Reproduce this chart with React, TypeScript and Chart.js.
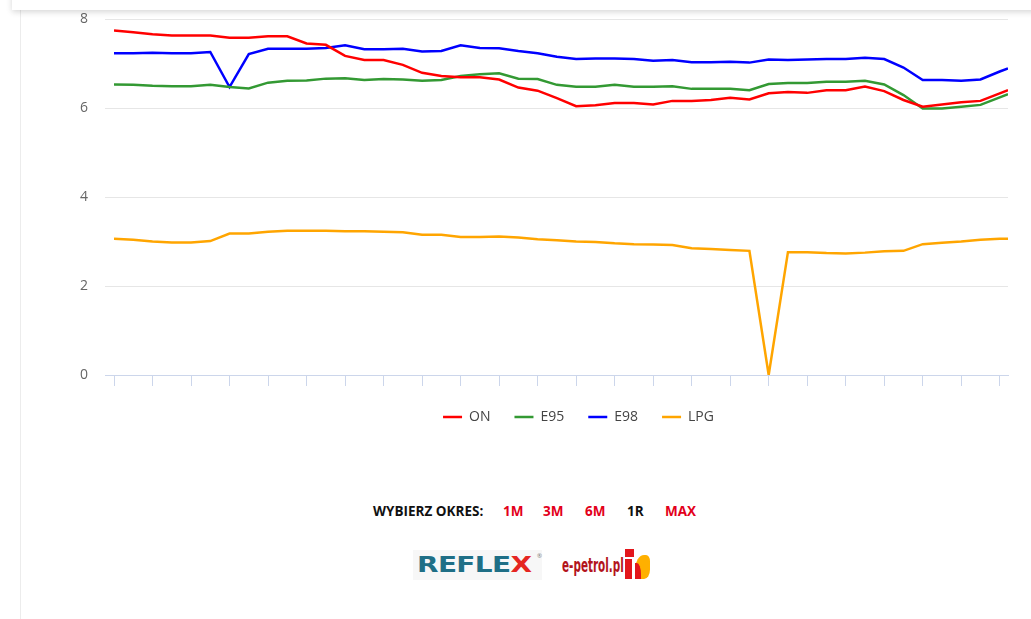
import React, { useEffect, useRef } from "react";
import { Chart, registerables } from "chart.js";

Chart.register(...registerables);

// Day offsets of the observations (weekly + latest reading)
const days = [
  0, 7, 14, 21, 28, 35, 42, 49, 56, 63, 70, 77, 84, 91, 98, 105, 112, 119, 126, 133,
  140, 147, 154, 161, 168, 175, 182, 189, 196, 203, 210, 217, 224, 231, 238, 245, 252,
  259, 266, 273, 280, 287, 294, 301, 308, 315, 322, 325,
];
// Positions of the x-axis tick marks (every two weeks)
const tickDays = [
  0, 14, 28, 42, 56, 70, 84, 98, 112, 126, 140, 154, 168, 182, 196, 210, 224, 238, 252,
  266, 280, 294, 308, 322,
];

const onValues = [
  7.74, 7.7, 7.66, 7.63, 7.63, 7.63, 7.58, 7.58, 7.61, 7.61, 7.45, 7.42, 7.17, 7.08, 7.08,
  6.97, 6.79, 6.72, 6.69, 6.69, 6.64, 6.46, 6.39, 6.22, 6.04, 6.06, 6.11, 6.11, 6.08, 6.16,
  6.16, 6.18, 6.23, 6.19, 6.33, 6.36, 6.34, 6.4, 6.4, 6.48, 6.38, 6.18, 6.03, 6.08, 6.13,
  6.16, 6.33, 6.4,
];
const e95Values = [
  6.53, 6.52, 6.5, 6.49, 6.49, 6.52, 6.47, 6.44, 6.57, 6.61, 6.62, 6.66, 6.67, 6.63, 6.65,
  6.64, 6.61, 6.63, 6.72, 6.76, 6.78, 6.66, 6.65, 6.52, 6.48, 6.48, 6.52, 6.48, 6.48, 6.49,
  6.43, 6.43, 6.43, 6.4, 6.54, 6.56, 6.56, 6.59, 6.59, 6.61, 6.53, 6.29, 5.99, 5.99, 6.03,
  6.07, 6.24, 6.31,
];
const e98Values = [
  7.23, 7.23, 7.24, 7.23, 7.23, 7.26, 6.47, 7.21, 7.33, 7.33, 7.33, 7.35, 7.41, 7.32, 7.32,
  7.33, 7.27, 7.28, 7.41, 7.35, 7.34, 7.28, 7.23, 7.15, 7.1, 7.11, 7.11, 7.1, 7.06, 7.08,
  7.03, 7.03, 7.04, 7.02, 7.09, 7.08, 7.09, 7.1, 7.1, 7.13, 7.1, 6.91, 6.63, 6.63, 6.61,
  6.64, 6.82, 6.89,
];
const lpgValues = [
  3.06, 3.04, 3.0, 2.98, 2.98, 3.01, 3.18, 3.18, 3.22, 3.24, 3.24, 3.24, 3.23, 3.23, 3.22,
  3.21, 3.15, 3.15, 3.1, 3.1, 3.11, 3.09, 3.05, 3.03, 3.0, 2.99, 2.96, 2.94, 2.93, 2.92,
  2.85, 2.83, 2.81, 2.79, 0, 2.76, 2.76, 2.74, 2.73, 2.75, 2.78, 2.79, 2.94, 2.97, 3.0,
  3.04, 3.06, 3.06,
];

const seriesNames = ["ON", "E95", "E98", "LPG"];
const seriesValues = [onValues, e95Values, e98Values, lpgValues];
const seriesColors = ["#ff0000", "#339933", "#0000ff", "#ffa500"];

const periodLabel = "WYBIERZ OKRES:";
const periods = ["1M", "3M", "6M", "1R", "MAX"];
const activePeriod = "1R";
const periodLefts = [503, 543, 585, 627, 665];

export default function App() {
  const canvasRef = useRef<HTMLCanvasElement | null>(null);

  useEffect(() => {
    if (!canvasRef.current) return;
    Chart.defaults.font.family = "'Open Sans', sans-serif";
    const chart = new Chart(canvasRef.current, {
      type: "line",
      data: {
        datasets: seriesNames.map((name, k) => ({
          label: name,
          data: days.map((d, i) => ({ x: d, y: seriesValues[k][i] })),
          borderColor: seriesColors[k],
          backgroundColor: seriesColors[k],
          borderWidth: 2.5,
          pointRadius: 0,
          pointHoverRadius: 0,
          tension: 0,
          fill: false,
        })),
      },
      options: {
        responsive: false,
        animation: false,
        layout: { padding: { top: 19, bottom: 6, left: 0, right: 0 } },
        scales: {
          x: {
            type: "linear",
            min: 0,
            max: 325,
            afterBuildTicks: (scale: any) => {
              scale.ticks = tickDays.map((v) => ({ value: v }));
            },
            ticks: { display: false },
            grid: {
              drawOnChartArea: false,
              drawTicks: true,
              tickLength: 11,
              color: "#ccd6eb",
            },
            border: { display: true, color: "#ccd6eb" },
          },
          y: {
            type: "linear",
            min: 0,
            max: 8,
            ticks: { stepSize: 2, color: "#666666", font: { size: 14 }, padding: 17 },
            grid: {
              color: (c: any) => (c.tick && c.tick.value === 0 ? "#ccd6eb" : "#e6e6e6"),
              tickLength: 9,
            },
            border: { display: false },
            afterFit: (scale: any) => {
              scale.width = 94;
              scale.paddingTop = 0;
              scale.paddingBottom = 0;
            },
          },
          yR: {
            type: "linear",
            position: "right",
            display: true,
            grid: { display: false },
            ticks: { display: false },
            border: { display: false },
            afterFit: (scale: any) => {
              scale.width = 129;
              scale.paddingTop = 0;
              scale.paddingBottom = 0;
            },
          },
        },
        plugins: {
          legend: {
            position: "bottom",
            labels: {
              usePointStyle: true,
              pointStyle: "line",
              pointStyleWidth: 19,
              padding: 24,
              color: "#444444",
              font: { size: 14 },
            },
          },
          tooltip: { enabled: false },
        },
      } as any,
    });
    return () => chart.destroy();
  }, []);

  return (
    <div
      style={{
        position: "absolute",
        left: 0,
        top: 0,
        width: 1031,
        height: 619,
        overflow: "hidden",
        background: "#ffffff",
        fontFamily: "'Open Sans', sans-serif",
      }}
    >
      <canvas
        ref={canvasRef}
        width={1117}
        height={440}
        style={{ position: "absolute", left: 20, top: 0, width: 1117, height: 440 }}
      />
      {/* left border of content */}
      <div
        style={{
          position: "absolute",
          left: 20,
          top: 10,
          width: 1,
          bottom: 0,
          background: "#ececec",
        }}
      />
      {/* header with shadow */}
      <div
        style={{
          position: "absolute",
          left: 12,
          right: -20,
          top: -20,
          height: 30,
          background: "#ffffff",
          boxShadow: "0 2px 6px rgba(0,0,0,0.16)",
        }}
      />
      {/* period selector */}
      <span
        style={{
          position: "absolute",
          left: 373,
          top: 502,
          lineHeight: "18px",
          fontSize: 13.5,
          fontWeight: 700,
          color: "#111111",
          whiteSpace: "nowrap",
        }}
      >
        {periodLabel}
      </span>
      {periods.map((p, i) => (
        <span
          key={p}
          style={{
            position: "absolute",
            left: periodLefts[i],
            top: 502,
            lineHeight: "18px",
            fontSize: 13.5,
            fontWeight: 700,
            color: p === activePeriod ? "#111111" : "#e3001b",
            whiteSpace: "nowrap",
          }}
        >
          {p}
        </span>
      ))}
      {/* REFLEX logo */}
      <div
        style={{
          position: "absolute",
          left: 413,
          top: 550,
          width: 129,
          height: 30,
          background: "#f7f7f7",
        }}
      />
      <span
        style={{
          position: "absolute",
          left: 417,
          top: 551,
          lineHeight: "28px",
          fontSize: 22,
          fontWeight: 700,
          fontFamily: "'DejaVu Sans', sans-serif",
          color: "#1f6f86",
          transform: "scaleX(1.27)",
          transformOrigin: "left center",
          whiteSpace: "nowrap",
          letterSpacing: -0.5,
        }}
      >
        REFLE<span style={{ color: "#e52521" }}>X</span>
      </span>
      <span
        style={{
          position: "absolute",
          left: 537,
          top: 553,
          fontSize: 6,
          lineHeight: "6px",
          color: "#777",
        }}
      >
        ®
      </span>
      {/* e-petrol.pl logo */}
      <span
        style={{
          position: "absolute",
          left: 562,
          top: 551,
          lineHeight: "28px",
          fontSize: 20,
          fontWeight: 700,
          fontFamily: "'DejaVu Sans Condensed', 'DejaVu Sans', sans-serif",
          color: "#b3141c",
          transform: "scaleX(0.58)",
          transformOrigin: "left center",
          whiteSpace: "nowrap",
        }}
      >
        e-petrol.pl
      </span>
      <div style={{ position: "absolute", left: 625, top: 549, width: 9, height: 8, background: "#e3161b" }} />
      <div style={{ position: "absolute", left: 625, top: 559, width: 7, height: 20, background: "#e3161b" }} />
      <div
        style={{
          position: "absolute",
          left: 635,
          top: 555,
          width: 15,
          height: 24,
          background: "#ffb000",
          borderRadius: "70% 30% 45% 45%",
        }}
      />
      <div
        style={{
          position: "absolute",
          left: 635,
          top: 563,
          width: 6,
          height: 16,
          background: "#e3161b",
          borderRadius: "0 70% 0 0",
        }}
      />
    </div>
  );
}
